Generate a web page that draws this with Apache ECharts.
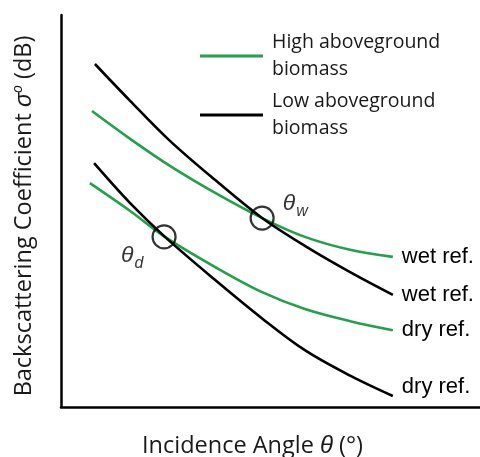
<!DOCTYPE html>
<html>
<head>
<meta charset="utf-8">
<script src="https://cdn.jsdelivr.net/npm/echarts@6/dist/echarts.min.js"></script>
<style>html,body{margin:0;padding:0;background:#fff;}#c{width:480px;height:457px;}</style>
</head>
<body>
<div id="c"></div>
<script>
// Conceptual chart: arbitrary units (no ticks in the reference)
var highName = 'High aboveground\nbiomass';
var lowName = 'Low aboveground\nbiomass';
var endLabels = ['wet ref.', 'wet ref.', 'dry ref.', 'dry ref.'];

var lowWet = [[8.1,87.5],[16.5,78.1],[26.0,67.9],[36.8,57.9],[48.0,48.2],[58.2,41.1],[69.0,34.4],[79.2,28.6]];
var highWet = [[7.4,75.5],[16.5,68.4],[26.0,61.5],[36.8,54.6],[48.0,48.2],[58.2,43.4],[69.0,40.1],[79.2,38.3]];
var lowDry = [[7.9,62.2],[16.5,52.0],[24.8,43.4],[36.8,32.4],[48.0,22.6],[58.2,14.5],[69.0,8.0],[79.2,2.8]];
var highDry = [[6.9,57.1],[16.5,50.0],[24.8,43.4],[36.8,35.7],[48.0,29.3],[58.2,25.0],[69.0,21.9],[79.2,19.6]];

var crossW = [48.0, 48.2];
var crossD = [24.6, 43.4];

var green = '#22a04b';
var FONT = 'Open Sans';
var TXT = '#1a1a1a';

function lineSeries(name, data, color, label, endOffset) {
  return {
    type: 'line', name: name, data: data, smooth: 0.35, symbol: 'none',
    lineStyle: {color: color, width: 2.6}, itemStyle: {color: color},
    endLabel: {show: true, formatter: label, color: '#000', fontFamily: 'Liberation Sans, Arial',
               fontSize: 22, distance: 9, offset: endOffset || [0, 0]},
    z: 2
  };
}

var chart = echarts.init(document.getElementById('c'), null, {renderer: 'canvas'});
chart.setOption({
  animation: false,
  backgroundColor: '#fff',
  grid: {left: 61, right: 0, top: 15, bottom: 50, containLabel: false, outerBoundsMode: 'none'},
  legend: {
    data: [highName, lowName],
    orient: 'vertical', left: 200, top: 29, padding: 0, itemGap: 5,
    itemWidth: 63, itemHeight: 3, icon: 'rect',
    textStyle: {fontFamily: FONT, fontSize: 19.5, lineHeight: 27, color: TXT, padding: [0, 0, 0, 4]}
  },
  xAxis: {
    type: 'value', min: 0, max: 100,
    axisLine: {show: true, lineStyle: {color: '#000', width: 2.5}},
    axisTick: {show: false}, axisLabel: {show: false}, splitLine: {show: false},
    name: 'Incidence Angle {i|θ} (°)', nameLocation: 'middle', nameGap: 27,
    nameTextStyle: {fontFamily: FONT, fontSize: 23.5, color: TXT, padding: [0, 36, 0, 0],
      rich: {i: {fontFamily: 'Liberation Sans, Arial', fontStyle: 'italic', fontSize: 24, color: TXT}}}
  },
  yAxis: {
    type: 'value', min: 0, max: 100,
    axisLine: {show: true, lineStyle: {color: '#000', width: 2.5}},
    axisTick: {show: false}, axisLabel: {show: false}, splitLine: {show: false},
    name: 'Backscattering Coefficient {i|σ}{s|o} (dB)', nameLocation: 'middle', nameGap: 24, nameRotate: 90,
    nameTextStyle: {fontFamily: FONT, fontSize: 23.5, color: TXT, padding: [0, 10, 0, 0],
      rich: {
        i: {fontFamily: 'Liberation Sans, Arial', fontStyle: 'italic', fontSize: 23.5, color: TXT},
        s: {fontFamily: 'Liberation Sans, Arial', fontStyle: 'italic', fontSize: 14, color: TXT, padding: [0, 0, 12, 0]}
      }}
  },
  series: [
    lineSeries(highName, highWet, green, endLabels[0]),
    lineSeries(lowName, lowWet, '#000', endLabels[1]),
    lineSeries(highName, highDry, green, endLabels[2]),
    lineSeries(lowName, lowDry, '#000', endLabels[3], [0, -9]),
    {
      type: 'scatter', symbol: 'circle', symbolSize: 23, z: 5,
      itemStyle: {color: 'rgba(0,0,0,0)', borderColor: '#000', borderWidth: 2.2},
      data: [
        {value: crossW, label: {show: true, position: 'right', distance: 8, offset: [0, -14],
          formatter: '{t|θ}{s|w}'}},
        {value: crossD, label: {show: true, position: 'left', distance: 6, offset: [-2, 19],
          formatter: '{t|θ}{s|d}'}}
      ],
      label: {
        rich: {
          t: {fontFamily: 'Liberation Sans, Arial', fontStyle: 'italic', fontSize: 23, color: '#000'},
          s: {fontFamily: 'Liberation Sans, Arial', fontStyle: 'italic', fontSize: 16, color: '#000', padding: [15, 0, 0, 1]}
        }
      },
      silent: true
    }
  ]
});
</script>
</body>
</html>
